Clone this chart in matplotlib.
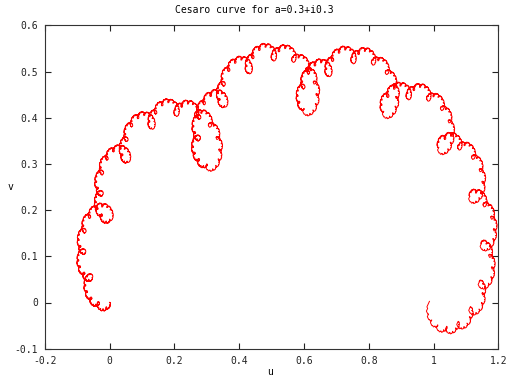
import numpy as np
import matplotlib
matplotlib.use("Agg")
import matplotlib.pyplot as plt

# Curve parameter (from title) and recursion depth
a_param = 0.3 + 0.3j
depth = 16
title = "Cesaro curve for a=0.3+i0.3"
xticks = [-0.2, 0, 0.2, 0.4, 0.6, 0.8, 1, 1.2]
yticks = [-0.1, 0, 0.1, 0.2, 0.3, 0.4, 0.5, 0.6]
xlabels = ["-0.2", "0", "0.2", "0.4", "0.6", "0.8", "1", "1.2"]
ylabels = ["-0.1", "0", "0.1", "0.2", "0.3", "0.4", "0.5", "0.6"]

# de Rham (Cesaro) curve points: f0(z)=a z, f1(z)=a+(1-a) z
z = np.array([0j])
for _ in range(depth):
    z = np.concatenate([a_param * z, a_param + (1 - a_param) * z])

fig = plt.figure(figsize=(5.08, 3.79), dpi=100)
ax = fig.add_axes([44.7/508, 1 - 348.7/379, (498.3-44.7)/508, (348.7-25.3)/379])
ax.plot(z.real, z.imag, color="#ff0000", lw=0.7)
ax.set_xlim(-0.2, 1.2)
ax.set_ylim(-0.1, 0.6)
font = dict(family="DejaVu Sans Mono", fontsize=7)
ax.set_xticks(xticks)
ax.set_xticklabels(xlabels, **font)
ax.set_yticks(yticks)
ax.set_yticklabels(ylabels, **font)
ax.tick_params(direction="in", top=True, right=True, length=4, width=0.8, pad=5, colors="#222222")
for s in ax.spines.values():
    s.set_linewidth(0.8)
    s.set_color("#333333")
fig.text(254/508, 1 - 10/379, title, ha="center", va="center", **font)
fig.text(270/508, 1 - 372/379, "u", ha="center", va="center", **font)
fig.text(10/508, 1 - 187/379, "v", ha="center", va="center", **font)
fig.savefig("out.png", dpi=100)
